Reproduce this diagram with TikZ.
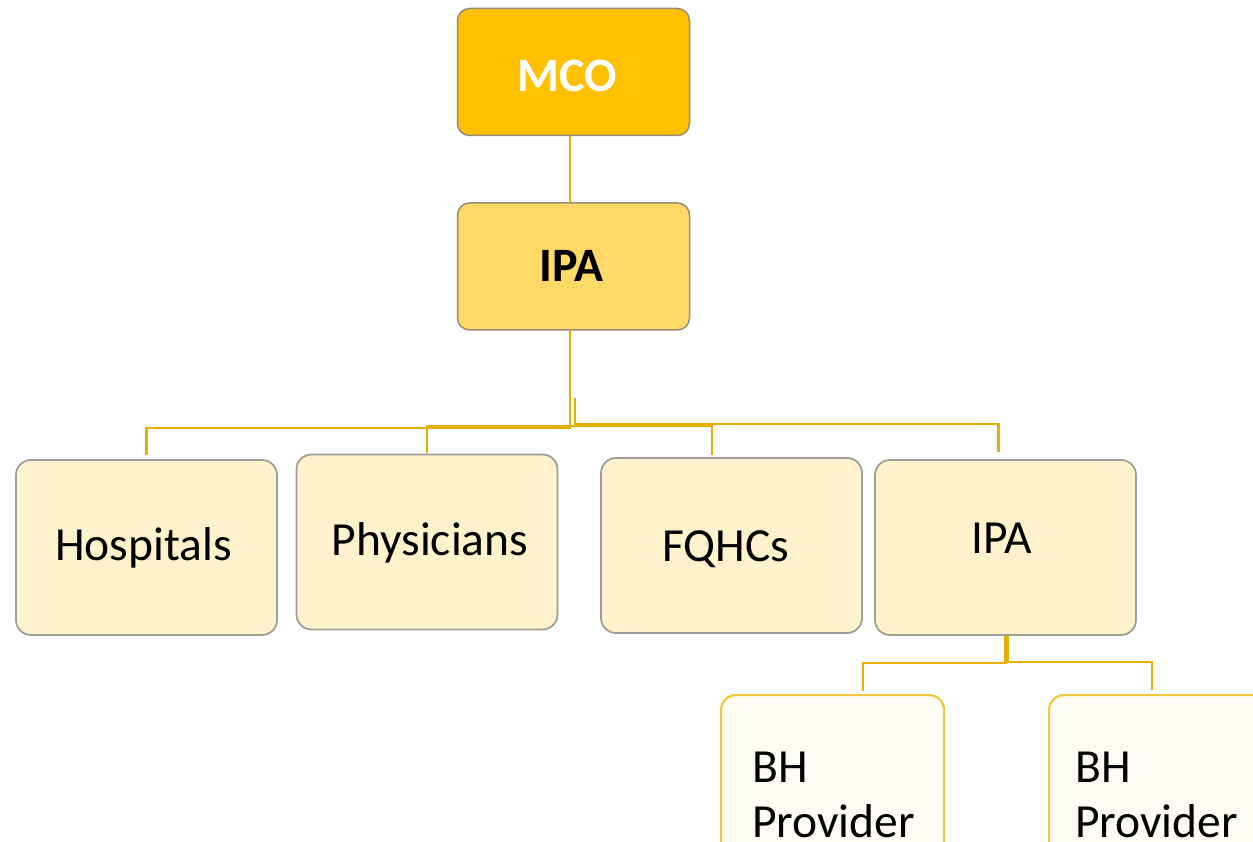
\documentclass[tikz,border=0pt]{standalone}
\usepackage{fontspec}
\setmainfont{Carlito}
\usetikzlibrary{calc}
\definecolor{mcofill}{RGB}{255,192,0}
\definecolor{ipafill}{RGB}{255,217,102}
\definecolor{lightfill}{RGB}{255,242,204}
\definecolor{boxedge}{RGB}{150,140,120}
\definecolor{grayedge}{RGB}{160,158,150}
\definecolor{connc}{RGB}{230,176,0}
\definecolor{bhedge}{RGB}{240,200,60}
\definecolor{bhfill}{RGB}{255,253,243}
\newcommand{\placetxt}[3]{\hspace*{#1}\raisebox{#2}[0pt][0pt]{#3}}
\tikzset{
  topbox/.style={draw=boxedge, line width=1.5pt, rounded corners=12pt, minimum width=232pt, minimum height=127pt, inner sep=0pt, font=\fontsize{48}{55}\selectfont\bfseries},
  midbox/.style={draw=grayedge, line width=1.8pt, fill=lightfill, rounded corners=15pt, minimum width=261pt, minimum height=175pt, inner sep=0pt, font=\fontsize{47.5}{55}\selectfont},
  bhbox/.style={draw=bhedge, line width=2.2pt, fill=bhfill, rounded corners=15pt, minimum width=223pt, minimum height=250pt, inner sep=0pt},
  bhtext/.style={align=left, inner sep=0pt, font=\fontsize{47.5}{55}\selectfont},
  conn/.style={draw=connc, line width=2.5pt}
}
\begin{document}
\begin{tikzpicture}[x=1pt,y=-1pt]
\useasboundingbox (0,0) rectangle (1253,842);
\clip (0,0) rectangle (1253,842);
\fill[white] (0,0) rectangle (1253,842);
% top boxes
\node[topbox, fill=mcofill, text=white] (mco) at (573.5,72) {\placetxt{-12pt}{-20pt}{MCO}};
\node[topbox, fill=ipafill] (ipa) at (573.5,266.5) {\placetxt{-4pt}{-15.5pt}{IPA}};
% middle boxes
\node[midbox] (hosp) at (146.5,547.5) {\placetxt{-6pt}{-12.5pt}{Hospitals}};
\node[midbox] (phys) at (427,542) {\placetxt{6pt}{-13.5pt}{Physicians}};
\node[midbox] (fqhc) at (731.5,545.5) {\placetxt{-12pt}{-15.5pt}{FQHCs}};
\node[midbox] (ipa2) at (1005.5,547.5) {\placetxt{-8pt}{-5.5pt}{IPA}};
% BH boxes
\node[bhbox, anchor=north west] (bh1) at (720,694) {};
\node[bhbox, anchor=north west] (bh2) at (1048,694) {};
\node[bhtext, anchor=base west] (bh1t) at (752,837) {BH\\Provider};
\node[bhtext, anchor=base west] (bh2t) at (1075,837) {BH\\Provider};
% connectors
\draw[conn] ([xshift=-3.5pt]mco.south) -- ([xshift=-3.5pt]ipa.north);
\draw[conn] ([xshift=-3.5pt]ipa.south) -- ++(0,97) -| ([yshift=4pt]hosp.north);
\draw[conn] ([xshift=-3.5pt]ipa.south) -- ++(0,95) -| ([yshift=1pt]phys.north);
\draw[conn] ([xshift=-3.5pt]ipa.south) -- ++(0,95) -| ([xshift=-19.5pt,yshift=2pt]fqhc.north);
\draw[conn] ([xshift=1.5pt,yshift=-67pt]ipa.south) -- ++(0,26) -| ([xshift=-7pt,yshift=7pt]ipa2.north);
\draw[conn] (ipa2.south) -- ++(0,27) -| ([xshift=30.5pt,yshift=3pt]bh1.north);
\draw[conn] ([xshift=2.5pt]ipa2.south) -- ++(0,26) -| ([xshift=-8.5pt,yshift=4pt]bh2.north);
\end{tikzpicture}
\end{document}
